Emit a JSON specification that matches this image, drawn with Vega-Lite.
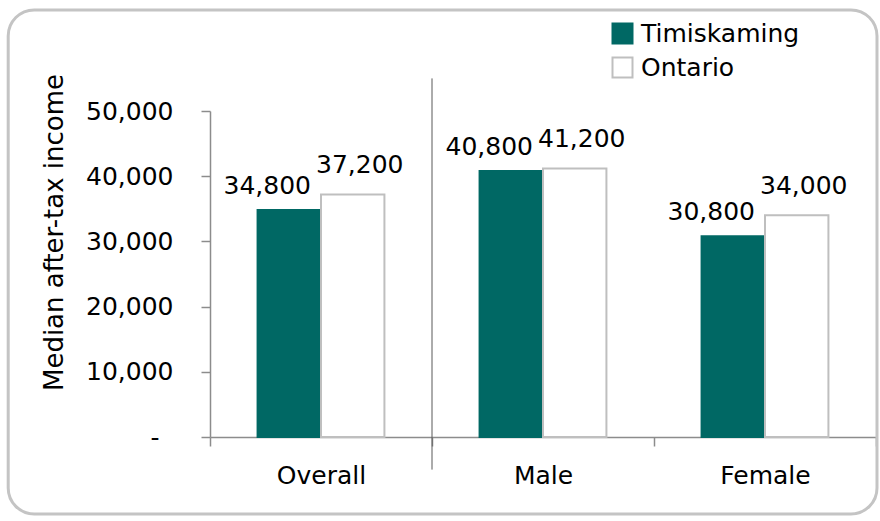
{
  "$schema": "https://vega.github.io/schema/vega-lite/v6.json",
  "width": 666,
  "height": 326,
  "autosize": "none",
  "padding": {"left": 210, "top": 111, "right": 4, "bottom": 84},
  "background": "white",
  "config": {"view": {"stroke": null}, "font": "DejaVu Sans"},
  "resolve": {"scale": {"x": "independent", "y": "independent"}},
  "layer": [
    {
      "data": {"values": [{"l": -0.303, "r": 1.0015, "b": -0.236, "t": 1.31}]},
      "mark": {"type": "rect", "fillOpacity": 0, "stroke": "#c4c4c4", "strokeWidth": 3, "cornerRadius": 26},
      "encoding": {
        "x": {"field": "l", "type": "quantitative", "scale": {"domain": [0, 1], "nice": false, "zero": false}, "axis": null},
        "x2": {"field": "r"},
        "y": {"field": "b", "type": "quantitative", "scale": {"domain": [0, 1], "nice": false, "zero": false}, "axis": null},
        "y2": {"field": "t"}
      }
    },
    {
      "data": {"values": [
        {"category": "Overall", "region": "Timiskaming", "income": 34800},
        {"category": "Overall", "region": "Ontario", "income": 37200},
        {"category": "Male", "region": "Timiskaming", "income": 40800},
        {"category": "Male", "region": "Ontario", "income": 41200},
        {"category": "Female", "region": "Timiskaming", "income": 30800},
        {"category": "Female", "region": "Ontario", "income": 34000}
      ]},
      "encoding": {
        "x": {
          "field": "category", "type": "nominal",
          "sort": ["Overall", "Male", "Female"],
          "scale": {"domain": ["Overall", "Male", "Female"], "paddingInner": 0, "paddingOuter": 0},
          "axis": {
            "title": null, "labelAngle": 0, "tickBand": "extent",
            "domainColor": "#8c8c8c", "domainWidth": 1.5,
            "tickColor": "#8c8c8c", "tickWidth": 1.5, "tickSize": 9,
            "labelFont": "DejaVu Sans", "labelFontSize": 25, "labelColor": "#000000", "labelPadding": 17
          }
        },
        "y": {
          "field": "income", "type": "quantitative",
          "scale": {"domain": [0, 50000], "nice": false},
          "axis": {
            "title": "Median after-tax income",
            "values": [0, 10000, 20000, 30000, 40000, 50000],
            "grid": false,
            "labelExpr": "datum.value === 0 ? '-' : format(datum.value, ',')",
            "labelFont": "DejaVu Sans", "labelFontSize": 25, "labelColor": "#000000",
            "labelPadding": {"condition": {"test": "datum.value === 0", "value": 42}, "value": 28},
            "tickSize": 9, "tickColor": "#8c8c8c", "tickWidth": 1.5,
            "domainColor": "#8c8c8c", "domainWidth": 1.5,
            "titleFont": "DejaVu Sans", "titleFontSize": 26, "titleFontWeight": "normal", "titleColor": "#000000",
            "titleAngle": -90, "titleX": -148, "titleY": 121, "titleBaseline": "alphabetic", "titleAlign": "center"
          }
        }
      },
      "layer": [
        {
          "mark": {"type": "bar", "strokeWidth": 2},
          "encoding": {
            "xOffset": {"field": "region", "type": "nominal", "sort": ["Timiskaming", "Ontario"], "scale": {"domain": ["Timiskaming", "Ontario"], "paddingInner": 0, "paddingOuter": 0.75}},
            "color": {
              "field": "region", "type": "nominal",
              "scale": {"domain": ["Timiskaming", "Ontario"], "range": ["#006864", "#ffffff"]},
              "legend": {"title": null, "orient": "none", "legendX": 400, "legendY": -90, "symbolType": "square", "symbolSize": 400, "symbolStrokeWidth": 2, "labelFont": "DejaVu Sans", "labelFontSize": 25, "labelColor": "#000000", "labelOffset": 6, "rowPadding": 5}
            },
            "stroke": {
              "field": "region", "type": "nominal",
              "scale": {"domain": ["Timiskaming", "Ontario"], "range": ["#006864", "#bfbfbf"]},
              "legend": {"title": null, "orient": "none", "legendX": 400, "legendY": -90, "symbolType": "square", "symbolSize": 400, "symbolStrokeWidth": 2, "labelFont": "DejaVu Sans", "labelFontSize": 25, "labelColor": "#000000", "labelOffset": 6, "rowPadding": 5}
            }
          }
        },
        {
          "transform": [{"filter": "datum.region === 'Timiskaming'"}],
          "mark": {"type": "text", "dx": -22, "dy": -16, "baseline": "alphabetic", "fontSize": 25, "font": "DejaVu Sans", "color": "#000000"},
          "encoding": {
            "xOffset": {"field": "region", "type": "nominal", "sort": ["Timiskaming", "Ontario"], "scale": {"domain": ["Timiskaming", "Ontario"], "paddingInner": 0, "paddingOuter": 0.75}},
            "text": {"field": "income", "type": "quantitative", "format": ",.0f"}
          }
        },
        {
          "transform": [{"filter": "datum.region === 'Ontario'"}],
          "mark": {"type": "text", "dx": 7, "dy": -21, "baseline": "alphabetic", "fontSize": 25, "font": "DejaVu Sans", "color": "#000000"},
          "encoding": {
            "xOffset": {"field": "region", "type": "nominal", "sort": ["Timiskaming", "Ontario"], "scale": {"domain": ["Timiskaming", "Ontario"], "paddingInner": 0, "paddingOuter": 0.75}},
            "text": {"field": "income", "type": "quantitative", "format": ",.0f"}
          }
        },
        {
          "data": {"values": [{"category": "Male", "lo": -5000, "hi": 55000}]},
          "mark": {"type": "rule", "color": "#595959", "strokeWidth": 1},
          "encoding": {
            "x": {"field": "category", "type": "nominal", "bandPosition": 0},
            "y": {"field": "lo", "type": "quantitative"},
            "y2": {"field": "hi"}
          }
        }
      ]
    }
  ]
}
